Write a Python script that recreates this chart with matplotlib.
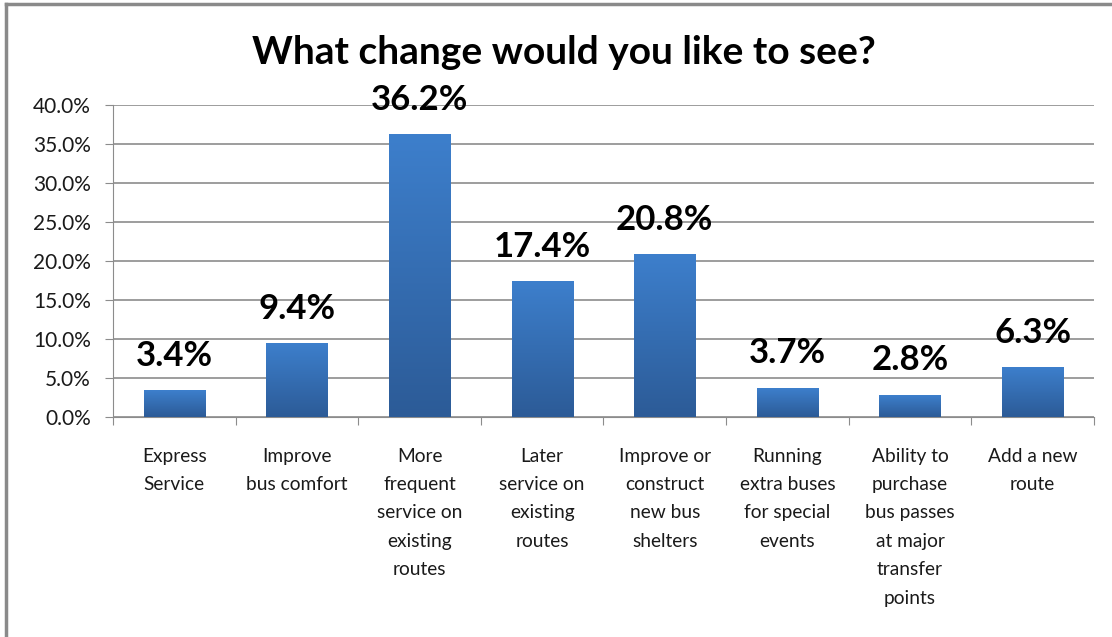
import numpy as np
import matplotlib.pyplot as plt
from matplotlib.colors import LinearSegmentedColormap
from matplotlib.ticker import FuncFormatter

categories = ["Express\nService", "Improve\nbus comfort", "More\nfrequent\nservice on\nexisting\nroutes",
              "Later\nservice on\nexisting\nroutes", "Improve or\nconstruct\nnew bus\nshelters",
              "Running\nextra buses\nfor special\nevents", "Ability to\npurchase\nbus passes\nat major\ntransfer\npoints",
              "Add a new\nroute"]
shares = [3.4, 9.4, 36.2, 17.4, 20.8, 3.7, 2.8, 6.3]
yticks = [0, 5, 10, 15, 20, 25, 30, 35, 40]

plt.rcParams['font.family'] = ['Lato', 'DejaVu Sans']

fig = plt.figure(figsize=(11.12, 6.37), dpi=100)
ax = fig.add_axes([0.1016, 0.3454, 0.8822, 0.4898])

x = np.arange(len(shares))
bars = ax.bar(x, shares, width=0.5, color='none', zorder=3)

# vertical gradient fill for each bar, lighter at the top
grad = LinearSegmentedColormap.from_list('blues', ['#2c5b97', '#3d7fcc'])
g = np.linspace(0, 1, 256).reshape(-1, 1)
for b in bars:
    x0, w, h = b.get_x(), b.get_width(), b.get_height()
    ax.imshow(g, cmap=grad, origin='lower', aspect='auto',
              extent=[x0, x0 + w, 0, h], zorder=3)
    ax.text(x0 + w / 2, h + 2.4, f"{h:.1f}%", ha='center', va='bottom',
            fontsize=25, fontweight='bold', color='black', zorder=4)

ax.set_xlim(-0.5, len(shares) - 0.5)
ax.set_ylim(0, 40)
ax.set_yticks(yticks)
ax.yaxis.set_major_formatter(FuncFormatter(lambda v, p: f"{v:.1f}%"))
ax.grid(axis='y', color='#8c8c8c', linewidth=1.2, zorder=0)
ax.set_axisbelow(True)

ax.set_xticks(np.arange(len(shares) + 1) - 0.5, minor=False)
ax.set_xticklabels([])
ax.set_xticks(x, minor=True)
ax.set_xticklabels(categories, minor=True, fontsize=13.8, linespacing=1.82, va='top')
ax.tick_params(axis='x', which='minor', length=0, pad=22)
ax.tick_params(axis='x', which='major', length=6, color='#8c8c8c')
ax.tick_params(axis='y', length=6, color='#8c8c8c', labelsize=15, labelcolor='#1a1a1a', pad=10)
for lbl in ax.get_xticklabels(minor=True):
    lbl.set_color('#1a1a1a')
    lbl.set_multialignment('center')

for s in ['top', 'right']:
    ax.spines[s].set_visible(False)
ax.spines['left'].set_color('#8c8c8c')
ax.spines['bottom'].set_color('#8c8c8c')

fig.text(0.507, 0.918, "What change would you like to see?", ha='center', va='center',
         fontsize=28, fontweight='bold', color='black')

# outer chart frame (top and left edges)
fig.add_artist(plt.Line2D([0.0054, 0.0054], [0, 0.993], color='#8a8a8a', linewidth=2.5,
                          transform=fig.transFigure))
fig.add_artist(plt.Line2D([0.0054, 1], [0.993, 0.993], color='#8a8a8a', linewidth=2.5,
                          transform=fig.transFigure))

fig.savefig("out.png", dpi=100)
